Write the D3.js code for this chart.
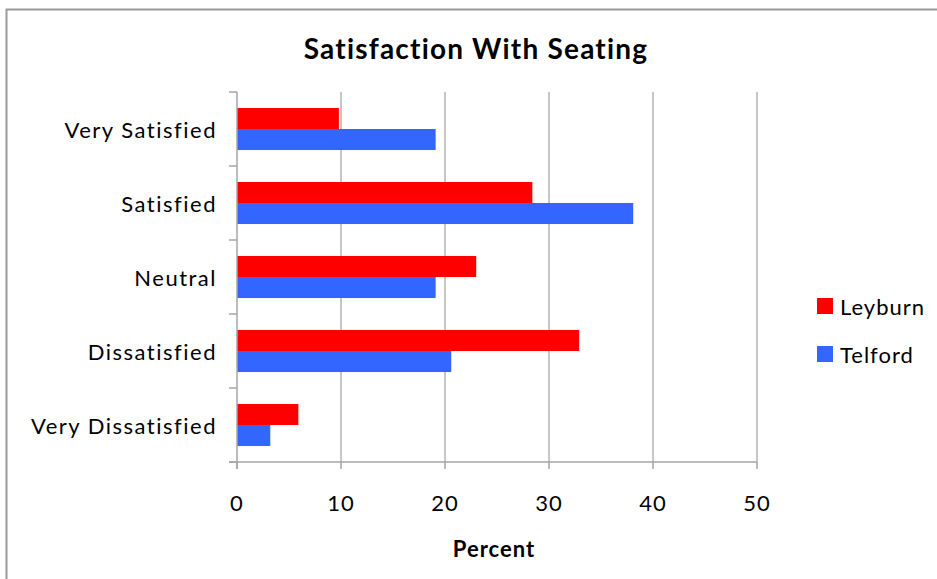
<!DOCTYPE html>
<html>
<head>
<meta charset="utf-8">
<script src="https://cdn.jsdelivr.net/npm/d3@7"></script>
<style>
  html, body { margin: 0; padding: 0; background: #fff; }
  svg { display: block; }
  text { font-family: Lato, "Open Sans", sans-serif; fill: #000; }
</style>
</head>
<body>
<script>
// Survey responses (percent) by site
const categories = ["Very Satisfied", "Satisfied", "Neutral", "Dissatisfied", "Very Dissatisfied"];
const seriesNames = ["Leyburn", "Telford"];
const leyburn = [9.8, 28.4, 23.0, 32.9, 5.9];
const telford = [19.1, 38.1, 19.1, 20.6, 3.2];
const xTicks = [0, 10, 20, 30, 40, 50];
const colors = ["#ff0000", "#3366ff"];

const W = 937, H = 579;
const plot = { left: 237, right: 757, top: 92, bottom: 462 };

const svg = d3.select("body").append("svg").attr("width", W).attr("height", H);

// Chart frame
svg.append("rect")
  .attr("x", 6.5).attr("y", 9.5)
  .attr("width", W + 20).attr("height", H + 20)
  .attr("fill", "none").attr("stroke", "#9a9a9a").attr("stroke-width", 2);

const x = d3.scaleLinear().domain([0, 50]).range([plot.left, plot.right]);
const y0 = d3.scaleBand().domain(categories).range([plot.top, plot.bottom]).padding(0);
const y1 = d3.scaleBand().domain(seriesNames).range([0, y0.bandwidth()]).paddingInner(0).paddingOuter(0.76);

// Vertical gridlines
svg.append("g").selectAll("line").data(xTicks.slice(1)).join("line")
  .attr("x1", d => x(d)).attr("x2", d => x(d))
  .attr("y1", plot.top).attr("y2", plot.bottom)
  .attr("stroke", "#b4b4b4").attr("stroke-width", 1.5);

// Bars
const rows = categories.map((c, i) => ({ cat: c, values: [leyburn[i], telford[i]] }));
const groups = svg.append("g").selectAll("g").data(rows).join("g")
  .attr("transform", d => `translate(0,${y0(d.cat)})`);
groups.selectAll("rect").data(d => d.values.map((v, j) => ({ name: seriesNames[j], v, j })))
  .join("rect")
  .attr("x", x(0))
  .attr("y", d => y1(d.name))
  .attr("width", d => x(d.v) - x(0))
  .attr("height", y1.bandwidth())
  .attr("fill", d => colors[d.j]);

// Y axis (category boundaries as ticks)
const axisColor = "#a6a6a6";
const yAxisG = svg.append("g");
yAxisG.append("line")
  .attr("x1", plot.left).attr("x2", plot.left)
  .attr("y1", plot.top).attr("y2", plot.bottom + 7)
  .attr("stroke", axisColor).attr("stroke-width", 1.5);
const bounds = categories.map(c => y0(c)).concat([plot.bottom]);
yAxisG.selectAll("line.tick").data(bounds).join("line").attr("class", "tick")
  .attr("x1", plot.left - 8).attr("x2", plot.left)
  .attr("y1", d => d).attr("y2", d => d)
  .attr("stroke", axisColor).attr("stroke-width", 1.5);
yAxisG.selectAll("text").data(categories).join("text")
  .attr("x", 217)
  .attr("y", d => y0(d) + y0.bandwidth() / 2)
  .attr("text-anchor", "end")
  .attr("dominant-baseline", "central")
  .attr("font-size", 22)
  .attr("letter-spacing", 1.5)
  .text(d => d);

// X axis
const xAxisG = svg.append("g");
xAxisG.append("line")
  .attr("x1", plot.left - 8).attr("x2", plot.right)
  .attr("y1", plot.bottom).attr("y2", plot.bottom)
  .attr("stroke", axisColor).attr("stroke-width", 1.5);
xAxisG.selectAll("line.tick").data(xTicks).join("line").attr("class", "tick")
  .attr("x1", d => x(d)).attr("x2", d => x(d))
  .attr("y1", plot.bottom).attr("y2", plot.bottom + 7)
  .attr("stroke", axisColor).attr("stroke-width", 1.5);
xAxisG.selectAll("text").data(xTicks).join("text")
  .attr("x", d => x(d))
  .attr("y", 502)
  .attr("text-anchor", "middle")
  .attr("dominant-baseline", "central")
  .attr("font-size", 22)
  .attr("letter-spacing", 1)
  .text(d => d);

// Titles
svg.append("text")
  .attr("x", 476).attr("y", 48)
  .attr("text-anchor", "middle").attr("dominant-baseline", "central")
  .attr("font-size", 28).attr("font-weight", "bold")
  .attr("letter-spacing", 1.2)
  .text("Satisfaction With Seating");
svg.append("text")
  .attr("x", 494).attr("y", 548)
  .attr("text-anchor", "middle").attr("dominant-baseline", "central")
  .attr("font-size", 22).attr("font-weight", "bold")
  .attr("letter-spacing", 1)
  .text("Percent");

// Legend
const legend = svg.append("g").selectAll("g").data(seriesNames).join("g")
  .attr("transform", (d, i) => `translate(817,${298 + i * 48})`);
legend.append("rect").attr("width", 16).attr("height", 16).attr("fill", (d, i) => colors[i]);
legend.append("text")
  .attr("x", 23).attr("y", 8)
  .attr("dominant-baseline", "central")
  .attr("font-size", 22)
  .attr("letter-spacing", 1)
  .text(d => d);
</script>
</body>
</html>
